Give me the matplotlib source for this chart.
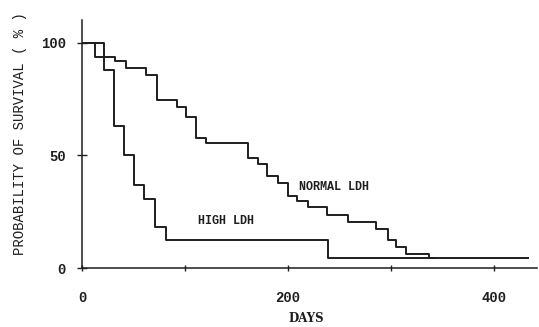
import numpy as np
import matplotlib
matplotlib.use("Agg")
import matplotlib.pyplot as plt

# Kaplan-Meier steps (days, % surviving)
normal_days = [0, 12.6, 32, 42.7, 62, 72.5, 92, 101, 110.7, 120.5, 161.5, 171, 180,
               190.6, 200, 209, 219.7, 237.6, 258, 286, 296.8, 305.5, 315, 337, 342]
normal_surv = [100, 93.6, 92, 88.7, 85.8, 74.7, 71.4, 67, 57.6, 55.4, 48.8, 46.1, 40.9,
               37.9, 32, 29.6, 27, 23.6, 20.6, 17.3, 12.2, 9.5, 6.3, 4.6, 4.6]
high_days = [0, 21.4, 31.4, 41, 50.8, 60.5, 70.9, 81.2, 239, 433]
high_surv = [100, 88, 62.8, 50, 36.9, 30.7, 18.4, 12.5, 4.6, 4.6]

xticks = [0, 100, 200, 300, 400]
xlabels = ["0", "", "200", "", "400"]
yticks = [0, 50, 100]
ylabels = ["0", "50", "100"]

mono = ["Liberation Mono", "DejaVu Sans Mono"]
ink = "#1e1e1e"

fig = plt.figure(figsize=(5.39, 3.27), dpi=100)
ax = fig.add_axes([82 / 539, 59 / 327, 455 / 539, 248 / 327])

ax.step(normal_days, normal_surv, where="post", color=ink, lw=1.4)
ax.step(high_days, high_surv, where="post", color=ink, lw=1.4)

ax.set_xlim(0, 442)
ax.set_ylim(0, 110)
ax.set_xticks(xticks)
ax.set_xticklabels(xlabels)
ax.set_yticks(yticks)
ax.set_yticklabels(ylabels)

for s in ["top", "right"]:
    ax.spines[s].set_visible(False)
for s in ["left", "bottom"]:
    ax.spines[s].set_color(ink)
    ax.spines[s].set_linewidth(1.1)

ax.tick_params(axis="y", direction="inout", length=7, width=1, pad=8, colors=ink)
ax.tick_params(axis="x", direction="inout", length=5, width=1, pad=14, colors=ink)
for lab in ax.get_xticklabels() + ax.get_yticklabels():
    lab.set_family(mono)
    lab.set_fontweight("bold")
    lab.set_fontsize(10)

ax.text(210.7, 36, "NORMAL LDH", family=mono, fontsize=8.5, fontweight="bold",
        color=ink, va="center", ha="left")
ax.text(112.6, 21, "HIGH LDH", family=mono, fontsize=8.5, fontweight="bold",
        color=ink, va="center", ha="left")

fig.text(20 / 539, 1 - 134 / 327, "PROBABILITY OF SURVIVAL ( % )", rotation=90,
         family=mono, fontsize=10, color=ink, ha="center", va="center")
fig.text(306 / 539, 1 - 318 / 327, "DAYS", family="DejaVu Serif", fontweight="bold",
         fontsize=8.5, color=ink, ha="center", va="center")

fig.savefig("out.png", dpi=100)
